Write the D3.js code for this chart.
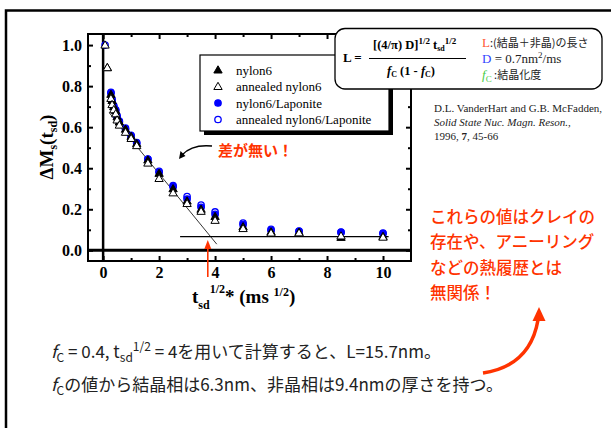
<!DOCTYPE html>
<html>
<head>
<meta charset="utf-8">
<script src="https://cdn.jsdelivr.net/npm/d3@7"></script>
<style>
  html, body { margin: 0; padding: 0; background: #fff; }
  svg { display: block; }
</style>
</head>
<body>
<svg id="chart" width="611" height="428"></svg>
<script>
// ---------------- data ----------------
const xValues = [0.07, 0.15, 0.28, 0.32, 0.38, 0.45, 0.5, 0.58, 0.8, 1.0, 1.2, 1.6, 2.0, 2.5, 3.0, 3.5, 4.0, 5.0, 6.0, 7.0, 8.5, 10.0];
const nylon6 = [null, 0.89, 0.76, 0.73, 0.70, 0.68, 0.65, 0.625, 0.59, 0.555, 0.52, 0.44, 0.375, 0.30, 0.24, 0.20, 0.165, 0.115, 0.09, 0.088, 0.063, 0.068];
const annealedNylon6 = [1.0, 0.89, 0.74, 0.71, 0.685, 0.665, 0.635, 0.61, 0.575, 0.545, 0.51, 0.425, 0.35, 0.28, 0.228, 0.19, 0.146, 0.106, 0.084, 0.085, 0.07, 0.064];
const nylon6Laponite = [null, null, 0.77, 0.735, 0.705, 0.685, 0.655, 0.63, 0.595, 0.56, 0.525, 0.445, 0.38, 0.31, 0.25, 0.21, 0.175, 0.125, 0.097, 0.092, 0.087, 0.082];
const annealedNylon6Laponite = [1.0, null, 0.765, 0.73, 0.70, 0.68, 0.65, 0.625, 0.59, 0.555, 0.52, 0.443, 0.385, 0.315, 0.262, 0.22, 0.187, 0.133, 0.102, 0.094, 0.089, 0.084];
const seriesNames = ["nylon6", "annealed nylon6", "nylon6/Laponite", "annealed nylon6/Laponite"];
const xTickMajor = [0, 2, 4, 6, 8, 10];
const xTickMinor = [1, 3, 5, 7, 9];
const yTickMajor = [0.0, 0.2, 0.4, 0.6, 0.8, 1.0];
const yTickMinor = [0.1, 0.3, 0.5, 0.7, 0.9];
const fitLine = [[0.22, 0.67], [4.06, 0.03]];
const plateauLine = [[2.75, 0.067], [10.2, 0.067]];
const crossX = 3.74;

// ---------------- setup ----------------
const svg = d3.select("#chart");
const SERIF = "'Liberation Serif', 'Times New Roman', 'DejaVu Serif', serif";
const JP = "'Noto Sans CJK JP', 'Noto Sans', sans-serif";
const RED = "#ff3300";

// outer slide frame
svg.append("path").attr("d", "M611,10.5 H6 V428").attr("fill", "none").attr("stroke", "#000").attr("stroke-width", 2.5);

const x = d3.scaleLinear().domain([-0.54, 11]).range([88, 411]);
const y = d3.scaleLinear().domain([-0.052, 1.054]).range([261, 34]);
const [x0, x1] = x.range();
const [yB, yT] = y.range();

const plot = svg.append("g");

// axes (ticks inward)
function styleAxis(g) {
  g.select(".domain").remove();
  g.selectAll(".tick line").attr("stroke", "#000").attr("stroke-width", 2);
  g.selectAll("text").attr("font-family", SERIF).attr("font-weight", "bold").attr("font-size", 16).attr("fill", "#000");
}
plot.append("g").attr("transform", `translate(0,${yB})`)
  .call(d3.axisBottom(x).tickValues(xTickMajor).tickFormat(d3.format("d")).tickSizeInner(-5).tickSizeOuter(0).tickPadding(6))
  .call(styleAxis);
plot.append("g").attr("transform", `translate(0,${yB})`)
  .call(d3.axisBottom(x).tickValues(xTickMinor).tickFormat("").tickSizeInner(-3).tickSizeOuter(0))
  .call(styleAxis);
plot.append("g").attr("transform", `translate(0,${yT})`)
  .call(d3.axisTop(x).tickValues(xTickMajor).tickFormat("").tickSizeInner(-5).tickSizeOuter(0))
  .call(styleAxis);
plot.append("g").attr("transform", `translate(0,${yT})`)
  .call(d3.axisTop(x).tickValues(xTickMinor).tickFormat("").tickSizeInner(-3).tickSizeOuter(0))
  .call(styleAxis);
plot.append("g").attr("transform", `translate(${x0},0)`)
  .call(d3.axisLeft(y).tickValues(yTickMajor).tickFormat(d3.format(".1f")).tickSizeInner(-5).tickSizeOuter(0).tickPadding(6))
  .call(styleAxis);
plot.append("g").attr("transform", `translate(${x0},0)`)
  .call(d3.axisLeft(y).tickValues(yTickMinor).tickFormat("").tickSizeInner(-3).tickSizeOuter(0))
  .call(styleAxis);
plot.append("g").attr("transform", `translate(${x1},0)`)
  .call(d3.axisRight(y).tickValues(yTickMajor).tickFormat("").tickSizeInner(-5).tickSizeOuter(0))
  .call(styleAxis);
plot.append("g").attr("transform", `translate(${x1},0)`)
  .call(d3.axisRight(y).tickValues(yTickMinor).tickFormat("").tickSizeInner(-3).tickSizeOuter(0))
  .call(styleAxis);

// frame and zero lines
plot.append("rect").attr("x", x0).attr("y", yT).attr("width", x1 - x0).attr("height", yB - yT)
  .attr("fill", "none").attr("stroke", "#000").attr("stroke-width", 2);
plot.append("line").attr("x1", x0).attr("x2", x1).attr("y1", y(0)).attr("y2", y(0)).attr("stroke", "#000").attr("stroke-width", 3);
plot.append("line").attr("x1", x(0)).attr("x2", x(0)).attr("y1", yT).attr("y2", yB).attr("stroke", "#000").attr("stroke-width", 2.5);

// fit lines
const lineGen = d3.line().x(d => x(d[0])).y(d => y(d[1]));
plot.append("path").attr("d", lineGen(fitLine)).attr("stroke", "#000").attr("stroke-width", 0.8).attr("fill", "none");
plot.append("path").attr("d", lineGen(plateauLine)).attr("stroke", "#000").attr("stroke-width", 1.2).attr("fill", "none");

// markers
const triSym = d3.symbol().type(d3.symbolTriangle).size(30);
const circR = 3.2;
const seriesStyles = [
  { type: "tri", fill: "#000", stroke: "#000" },
  { type: "tri", fill: "#fff", stroke: "#000" },
  { type: "circ", fill: "#0000ff", stroke: "#0000ff" },
  { type: "circ", fill: "none", stroke: "#0000ff" }
];
const seriesData = [nylon6, annealedNylon6, nylon6Laponite, annealedNylon6Laponite];
function drawMarker(g, st, cx, cy) {
  if (st.type === "tri") {
    g.append("path").attr("d", triSym()).attr("transform", `translate(${cx},${cy + 0.6})`)
      .attr("fill", st.fill).attr("stroke", st.stroke).attr("stroke-width", 1);
  } else {
    g.append("circle").attr("cx", cx).attr("cy", cy).attr("r", circR)
      .attr("fill", st.fill).attr("stroke", st.stroke).attr("stroke-width", 1.3);
  }
}
const drawOrder = [2, 3, 0, 1];
const markG = plot.append("g");
drawOrder.forEach(si => {
  seriesData[si].forEach((v, i) => {
    if (v === null) return;
    drawMarker(markG, seriesStyles[si], x(xValues[i]), y(v));
  });
});

// red vertical arrow marking the intersection
plot.append("line").attr("x1", x(crossX)).attr("x2", x(crossX)).attr("y1", y(-0.13)).attr("y2", y(0.02))
  .attr("stroke", RED).attr("stroke-width", 1.6);
plot.append("path").attr("d", `M${x(crossX)},${y(0.05)} l-3.5,9 h7 z`).attr("fill", RED);

// legend
const lg = svg.append("g");
lg.append("rect").attr("x", 204).attr("y", 59).attr("width", 189).attr("height", 76).attr("fill", "#000");
lg.append("rect").attr("x", 200).attr("y", 55).attr("width", 189).attr("height", 76).attr("fill", "#fff").attr("stroke", "#000").attr("stroke-width", 1.2);
seriesNames.forEach((name, i) => {
  const ry = 70 + i * 16.5;
  drawMarker(lg, seriesStyles[i], 218, ry);
  lg.append("text").attr("x", 236).attr("y", ry + 4.5).text(name)
    .attr("font-family", SERIF).attr("font-size", 13).attr("fill", "#000");
});

// axis titles
const yl = svg.append("text").attr("transform", "translate(53,147) rotate(-90)")
  .attr("text-anchor", "middle").attr("font-family", SERIF).attr("font-weight", "bold").attr("font-size", 19).attr("fill", "#000");
yl.append("tspan").text("ΔM");
yl.append("tspan").attr("dy", 4).attr("font-size", 12).text("s");
yl.append("tspan").attr("dy", -4).text("(t");
yl.append("tspan").attr("dy", 4).attr("font-size", 12).text("sd");
yl.append("tspan").attr("dy", -4).text(")");

const xl = svg.append("text").attr("x", 192).attr("y", 303)
  .attr("font-family", SERIF).attr("font-weight", "bold").attr("font-size", 19).attr("fill", "#000");
xl.append("tspan").text("t");
xl.append("tspan").attr("dy", 6).attr("font-size", 12).text("sd");
xl.append("tspan").attr("dy", -16).attr("dx", 0).attr("font-size", 12).text("1/2");
xl.append("tspan").attr("dy", 10).text("* (ms ");
xl.append("tspan").attr("dy", -7).attr("font-size", 12).text("1/2");
xl.append("tspan").attr("dy", 7).text(")");

// formula box
const fb = svg.append("g");
fb.append("rect").attr("x", 335).attr("y", 28.5).attr("width", 267).attr("height", 60.5).attr("rx", 10)
  .attr("fill", "#fff").attr("stroke", "#000").attr("stroke-width", 1.3);
fb.append("text").attr("x", 343).attr("y", 62).attr("font-family", SERIF).attr("font-weight", "bold").attr("font-size", 13).text("L  =");
const num = fb.append("text").attr("x", 373).attr("y", 49).attr("font-family", SERIF).attr("font-weight", "bold").attr("font-size", 12.5);
num.append("tspan").text("[(4/π)  D]");
num.append("tspan").attr("dy", -5).attr("font-size", 9).text("1/2");
num.append("tspan").attr("dy", 5).text("  t");
num.append("tspan").attr("dy", 2).attr("font-size", 8).text("sd");
num.append("tspan").attr("dy", -7).attr("font-size", 9).text("1/2");
fb.append("line").attr("x1", 369).attr("x2", 466).attr("y1", 58.5).attr("y2", 58.5).attr("stroke", "#000").attr("stroke-width", 1);
const den = fb.append("text").attr("x", 387).attr("y", 75).attr("font-family", SERIF).attr("font-weight", "bold").attr("font-size", 12.5);
den.append("tspan").attr("font-style", "italic").text("f");
den.append("tspan").attr("dy", 2).attr("font-size", 8).text("C");
den.append("tspan").attr("dy", -2).text("  (1  - ");
den.append("tspan").attr("font-style", "italic").text("f");
den.append("tspan").attr("dy", 2).attr("font-size", 8).text("C");
den.append("tspan").attr("dy", -2).text(")");

const r1 = fb.append("text").attr("x", 482).attr("y", 47).attr("font-family", JP).attr("font-size", 11).attr("fill", "#222");
r1.append("tspan").attr("fill", "#ff5533").attr("font-family", SERIF).attr("font-size", 13).text("L");
r1.append("tspan").text(":(結晶＋非晶)の長さ");
const r2 = fb.append("text").attr("x", 482).attr("y", 63).attr("font-family", SERIF).attr("font-size", 13).attr("fill", "#222");
r2.append("tspan").attr("fill", "#3344ff").text("D");
r2.append("tspan").text(" = 0.7nm");
r2.append("tspan").attr("dy", -5).attr("font-size", 9).text("2");
r2.append("tspan").attr("dy", 5).text("/ms");
const r3 = fb.append("text").attr("x", 482).attr("y", 79).attr("font-family", SERIF).attr("font-size", 13).attr("fill", "#222");
r3.append("tspan").attr("fill", "#44cc44").attr("font-style", "italic").text("f");
r3.append("tspan").attr("fill", "#44cc44").attr("dy", 3).attr("font-size", 9).text("C");
r3.append("tspan").attr("dy", -3).attr("font-family", JP).attr("font-size", 11).text(" :結晶化度");

// citation
const cit = svg.append("g").attr("font-family", SERIF).attr("font-size", 11).attr("fill", "#222");
cit.append("text").attr("x", 434).attr("y", 112).text("D.L. VanderHart and G.B. McFadden,");
cit.append("text").attr("x", 434).attr("y", 126).attr("font-style", "italic").text("Solid State Nuc. Magn. Reson.,");
const c3 = cit.append("text").attr("x", 434).attr("y", 140);
c3.append("tspan").text("1996, ");
c3.append("tspan").attr("font-weight", "bold").text("7");
c3.append("tspan").text(", 45-66");

// "差が無い！" annotation
svg.append("text").attr("x", 218).attr("y", 156).attr("font-family", JP).attr("font-weight", "bold").attr("font-size", 15)
  .attr("fill", RED).text("差が無い！");
svg.append("path").attr("d", "M212,146 Q192,144 182,155").attr("fill", "none").attr("stroke", "#000").attr("stroke-width", 1.4);
svg.append("path").attr("d", "M179,159 l1.5,-8 l5,5 z").attr("fill", "#000");

// red block text
const redLines = ["これらの値はクレイの", "存在や、アニーリング", "などの熱履歴とは", "無関係！"];
redLines.forEach((t, i) => {
  svg.append("text").attr("x", 430).attr("y", 223 + i * 25.3).attr("font-family", JP).attr("font-weight", 500)
    .attr("font-size", 16.5).attr("fill", RED).text(t);
});

// red curved arrow
svg.append("path").attr("d", "M483,373 Q530,366 538,320").attr("fill", "none").attr("stroke", RED).attr("stroke-width", 3.5);
svg.append("path").attr("d", "M539,307 l-6.5,14 h13 z").attr("fill", RED);

// bottom text
const b1 = svg.append("text").attr("x", 51).attr("y", 358).attr("font-family", JP).attr("font-size", 17).attr("fill", "#222");
b1.append("tspan").attr("font-style", "italic").text("f");
b1.append("tspan").attr("dy", 4).attr("font-size", 12).text("C");
b1.append("tspan").attr("dy", -4).text(" = 0.4, t");
b1.append("tspan").attr("dy", 4).attr("font-size", 12).text("sd");
b1.append("tspan").attr("dy", -11).attr("font-size", 12).text("1/2");
b1.append("tspan").attr("dy", 7).text(" = 4を用いて計算すると、L=15.7nm。");
const b2 = svg.append("text").attr("x", 51).attr("y", 391).attr("font-family", JP).attr("font-size", 17).attr("fill", "#222");
b2.append("tspan").attr("font-style", "italic").text("f");
b2.append("tspan").attr("dy", 4).attr("font-size", 12).text("C");
b2.append("tspan").attr("dy", -4).text("の値から結晶相は6.3nm、非晶相は9.4nmの厚さを持つ。");
</script>
</body>
</html>
